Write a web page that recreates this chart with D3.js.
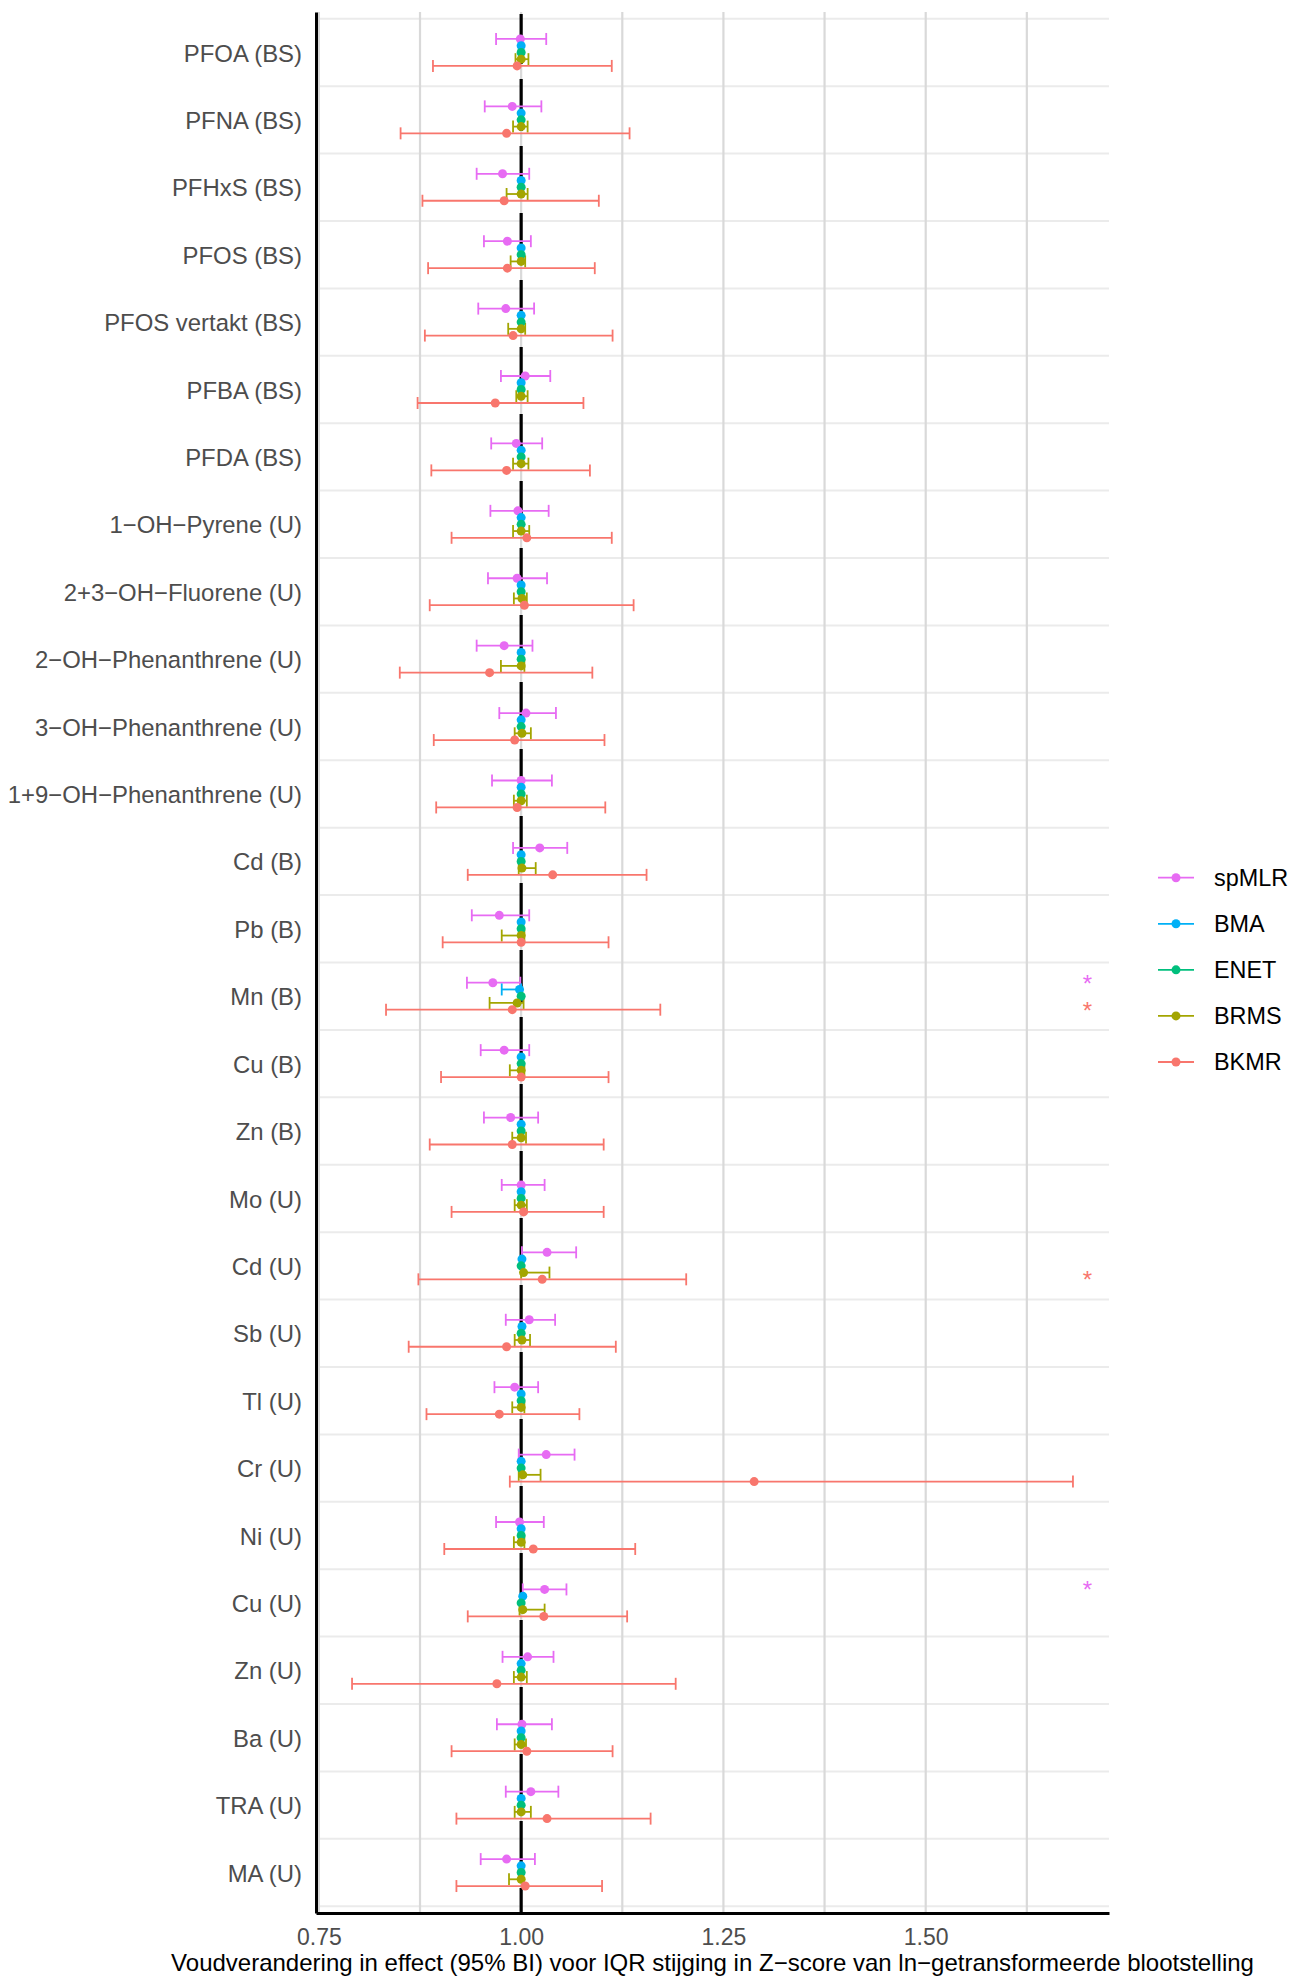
<!DOCTYPE html>
<html>
<head>
<meta charset="utf-8">
<script src="https://cdn.jsdelivr.net/npm/d3@7"></script>
<style>
  html, body { margin: 0; padding: 0; background: #ffffff; }
  svg { display: block; font-family: "Liberation Sans", Arial, sans-serif; }
</style>
</head>
<body>
<svg id="chart" width="1294" height="1977"></svg>
<script>
const categories = [
  "PFOA (BS)", "PFNA (BS)", "PFHxS (BS)", "PFOS (BS)", "PFOS vertakt (BS)", "PFBA (BS)", "PFDA (BS)",
  "1−OH−Pyrene (U)", "2+3−OH−Fluorene (U)", "2−OH−Phenanthrene (U)", "3−OH−Phenanthrene (U)",
  "1+9−OH−Phenanthrene (U)", "Cd (B)", "Pb (B)", "Mn (B)", "Cu (B)", "Zn (B)", "Mo (U)", "Cd (U)",
  "Sb (U)", "Tl (U)", "Cr (U)", "Ni (U)", "Cu (U)", "Zn (U)", "Ba (U)", "TRA (U)", "MA (U)"
];
const seriesNames = ["spMLR", "BMA", "ENET", "BRMS", "BKMR"];
const seriesColors = ["#E76BF3", "#00B0F6", "#00BF7D", "#A3A500", "#F8766D"];

const spMLR_est = [0.999,0.989,0.977,0.983,0.981,1.005,0.994,0.996,0.995,0.979,1.006,1.000,1.023,0.973,0.965,0.979,0.987,1.000,1.032,1.010,0.992,1.031,0.998,1.029,1.008,1.001,1.012,0.982];
const spMLR_lo  = [0.969,0.955,0.945,0.954,0.947,0.975,0.963,0.962,0.959,0.945,0.973,0.964,0.990,0.939,0.933,0.950,0.954,0.976,1.001,0.981,0.967,0.997,0.969,1.002,0.977,0.970,0.981,0.950];
const spMLR_hi  = [1.031,1.025,1.010,1.012,1.016,1.036,1.026,1.034,1.032,1.014,1.043,1.038,1.057,1.010,0.999,1.010,1.021,1.029,1.068,1.042,1.021,1.066,1.028,1.056,1.040,1.038,1.046,1.017];

const BMA_est = [1.000,1.000,1.000,1.000,1.000,1.000,1.000,1.000,1.000,1.000,1.000,1.000,1.000,1.000,0.998,1.000,1.000,1.000,1.001,1.001,1.000,1.000,1.000,1.002,1.000,1.000,1.000,1.000];
const BMA_lo  = [1.000,1.000,1.000,1.000,1.000,1.000,1.000,1.000,1.000,1.000,1.000,1.000,1.000,1.000,0.976,1.000,1.000,1.000,1.001,1.001,1.000,1.000,1.000,1.002,1.000,1.000,1.000,1.000];
const BMA_hi  = [1.000,1.000,1.000,1.000,1.000,1.000,1.000,1.000,1.000,1.000,1.000,1.000,1.000,1.000,1.000,1.000,1.000,1.000,1.001,1.001,1.000,1.000,1.000,1.002,1.000,1.000,1.000,1.000];

const ENET_est = [1.000,1.000,1.000,1.000,1.000,1.000,1.000,1.000,1.000,1.000,1.000,1.000,1.000,1.000,1.000,1.000,1.000,1.000,1.000,1.000,1.000,1.000,1.000,1.000,1.000,1.000,1.000,1.000];
const ENET_lo  = ENET_est.slice();
const ENET_hi  = ENET_est.slice();

const BRMS_est = [1.000,1.000,1.000,1.000,1.000,1.000,1.000,1.000,1.001,1.000,1.001,1.000,1.001,1.000,0.995,1.000,1.000,1.000,1.003,1.001,1.000,1.002,1.000,1.002,1.000,1.000,1.000,1.000];
const BRMS_lo  = [0.993,0.990,0.982,0.987,0.984,0.994,0.990,0.990,0.991,0.975,0.992,0.991,0.997,0.976,0.961,0.986,0.989,0.992,1.000,0.992,0.989,0.997,0.991,0.998,0.991,0.992,0.992,0.985];
const BRMS_hi  = [1.009,1.008,1.008,1.005,1.005,1.008,1.009,1.010,1.007,1.004,1.012,1.007,1.018,1.004,1.003,1.004,1.006,1.007,1.035,1.011,1.004,1.024,1.004,1.029,1.007,1.006,1.012,1.002];

const BKMR_est = [0.995,0.982,0.979,0.983,0.990,0.968,0.982,1.007,1.004,0.961,0.992,0.995,1.039,1.000,0.989,1.000,0.989,1.003,1.026,0.982,0.973,1.288,1.015,1.028,0.970,1.007,1.032,1.005];
const BKMR_lo  = [0.891,0.851,0.878,0.885,0.881,0.872,0.889,0.914,0.887,0.850,0.892,0.895,0.934,0.903,0.833,0.901,0.887,0.914,0.873,0.861,0.883,0.986,0.905,0.934,0.791,0.914,0.920,0.920];
const BKMR_hi  = [1.112,1.134,1.096,1.091,1.113,1.077,1.085,1.112,1.139,1.088,1.103,1.104,1.155,1.108,1.172,1.108,1.102,1.102,1.204,1.117,1.072,1.682,1.141,1.131,1.191,1.113,1.160,1.100];

const xTicks = [0.75, 1.00, 1.25, 1.50];
const xGrid = [0.75, 0.875, 1.00, 1.125, 1.25, 1.375, 1.50, 1.625];
const refLine = 1.0;
const sigCategories = ["Mn (B)", "Mn (B)", "Cd (U)", "Cu (U)"];
const sigSeries = ["spMLR", "BKMR", "BKMR", "spMLR"];
const sigX = 1.7;
const xTitle = "Voudverandering in effect (95% BI) voor IQR stijging in Z−score van ln−getransformeerde blootstelling";

// ---- build rows ----
const seriesData = {
  spMLR: [spMLR_est, spMLR_lo, spMLR_hi],
  BMA: [BMA_est, BMA_lo, BMA_hi],
  ENET: [ENET_est, ENET_lo, ENET_hi],
  BRMS: [BRMS_est, BRMS_lo, BRMS_hi],
  BKMR: [BKMR_est, BKMR_lo, BKMR_hi]
};
const rows = [];
seriesNames.forEach((s, si) => {
  const [e, l, h] = seriesData[s];
  categories.forEach((c, ci) => rows.push({cat: c, series: s, si, est: e[ci], lo: l[ci], hi: h[ci]}));
});

// ---- layout ----
const L = 316, R = 1109, T = 12, B = 1913;
const svg = d3.select("#chart");

const lo = d3.min(rows, d => d.lo), hi = d3.max(rows, d => d.hi);
const pad = (hi - lo) * 0.05;
const x = d3.scaleLinear().domain([lo - pad, hi + pad]).range([L, R]);
const y = d3.scalePoint().domain(categories).range([T, B]).padding(0.6);
const step = y.step();
const color = d3.scaleOrdinal().domain(seriesNames).range(seriesColors);
const dodge = d3.scalePoint().domain(seriesNames).range([-step * 0.2, step * 0.2]);
const yy = d => y(d.cat) + dodge(d.series);

// gridlines
const hLines = categories.map(c => y(c) - step / 2).concat([y(categories[categories.length - 1]) + step / 2]);
svg.append("g").selectAll("line").data(hLines).join("line")
  .attr("x1", L).attr("x2", R).attr("y1", d => d).attr("y2", d => d)
  .attr("stroke", "#ebebeb").attr("stroke-width", 2);
svg.append("g").selectAll("line").data(xGrid).join("line")
  .attr("x1", d => x(d)).attr("x2", d => x(d)).attr("y1", T).attr("y2", B)
  .attr("stroke", "#d9d9d9").attr("stroke-width", 2.2);

// reference dashed line
svg.append("line")
  .attr("x1", x(refLine)).attr("x2", x(refLine)).attr("y1", T + 2).attr("y2", B)
  .attr("stroke", "#000").attr("stroke-width", 3.2)
  .attr("stroke-dasharray", "52,15").attr("stroke-dashoffset", 2);

// error bars
const capH = 6;
const eb = svg.append("g").selectAll("g").data(rows.filter(d => d.hi - d.lo > 0.0015)).join("g")
  .attr("stroke", d => color(d.series)).attr("stroke-width", 1.8).attr("fill", "none");
eb.append("line").attr("x1", d => x(d.lo)).attr("x2", d => x(d.hi)).attr("y1", yy).attr("y2", yy);
eb.append("line").attr("x1", d => x(d.lo)).attr("x2", d => x(d.lo)).attr("y1", d => yy(d) - capH).attr("y2", d => yy(d) + capH);
eb.append("line").attr("x1", d => x(d.hi)).attr("x2", d => x(d.hi)).attr("y1", d => yy(d) - capH).attr("y2", d => yy(d) + capH);

// points
svg.append("g").selectAll("circle").data(rows).join("circle")
  .attr("cx", d => x(d.est)).attr("cy", yy).attr("r", 4.5)
  .attr("fill", d => color(d.series));

// significance asterisks
svg.append("g").selectAll("text").data(sigCategories.map((c, i) => ({cat: c, series: sigSeries[i]}))).join("text")
  .attr("x", x(sigX)).attr("y", yy).attr("dy", "0.37em")
  .attr("text-anchor", "middle").attr("font-size", 24)
  .attr("fill", d => color(d.series)).text("*");

// axes
const xAxis = d3.axisBottom(x).tickValues(xTicks).tickFormat(d3.format(".2f")).tickSize(0).tickPadding(15.5);
const gx = svg.append("g").attr("transform", `translate(0,${B})`).call(xAxis);
gx.select(".domain").attr("stroke", "#000").attr("stroke-width", 2.8);
gx.selectAll(".tick text").attr("font-size", 23).attr("fill", "#4d4d4d").attr("font-family", "Liberation Sans, Arial, sans-serif");

const yAxis = d3.axisLeft(y).tickSize(0).tickPadding(14);
const gy = svg.append("g").attr("transform", `translate(${L},0)`).call(yAxis);
gy.select(".domain").attr("stroke", "#000").attr("stroke-width", 3);
gy.selectAll(".tick text").attr("font-size", 23.9).attr("fill", "#4d4d4d").attr("dy", "0.36em")
  .attr("font-family", "Liberation Sans, Arial, sans-serif");

// x title
svg.append("text").attr("x", (L + R) / 2).attr("y", 1971).attr("text-anchor", "middle")
  .attr("font-size", 24).attr("fill", "#000").text(xTitle);

// legend
const legY = d3.scalePoint().domain(seriesNames).range([877.7, 1062]);
const leg = svg.append("g").selectAll("g").data(seriesNames).join("g")
  .attr("transform", d => `translate(0,${legY(d)})`);
leg.append("line").attr("x1", 1158).attr("x2", 1194).attr("stroke", d => color(d)).attr("stroke-width", 1.8);
leg.append("circle").attr("cx", 1176).attr("r", 4.5).attr("fill", d => color(d));
leg.append("text").attr("x", 1214).attr("dy", "0.36em").attr("font-size", 23.4).attr("fill", "#000").text(d => d);
</script>
</body>
</html>
